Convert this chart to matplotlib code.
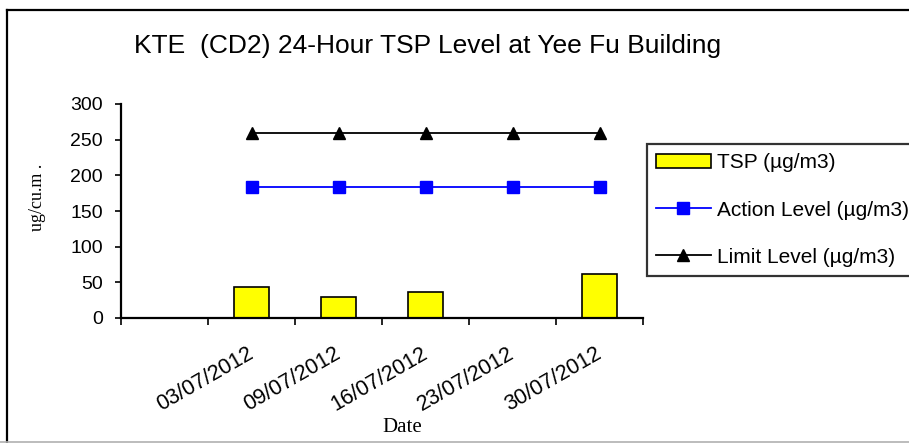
import numpy as np
import matplotlib
matplotlib.use("Agg")
import matplotlib.pyplot as plt
from matplotlib.lines import Line2D
import matplotlib.transforms as mtransforms

categories = ["", "03/07/2012", "09/07/2012", "16/07/2012", "23/07/2012", "30/07/2012"]
tsp = [np.nan, 44, 30, 36, np.nan, 62]
action = [np.nan, 183, 183, 183, 183, 183]
limit = [np.nan, 260, 260, 260, 260, 260]

W, H = 909, 443
fig = plt.figure(figsize=(W / 100, H / 100), dpi=100)
fig.patch.set_facecolor("white")

def fx(px):
    return px / W

def fy(py):
    return 1 - py / H

# outer frame (top and left visible, grey bottom edge)
fig.add_artist(Line2D([fx(7), 1.0], [fy(10), fy(10)], transform=fig.transFigure,
                      color="black", linewidth=1.6))
fig.add_artist(Line2D([fx(7), fx(7)], [fy(10), 0.0], transform=fig.transFigure,
                      color="black", linewidth=1.6))
fig.add_artist(Line2D([0, 1], [fy(442), fy(442)], transform=fig.transFigure,
                      color="#b0b0b0", linewidth=1.2))

left, right, top, bottom = 121, 643, 104, 318
ax = fig.add_axes([fx(left), fy(bottom), (right - left) / W, (bottom - top) / H])

x = np.arange(len(categories))
bars = ax.bar(x, tsp, width=0.4, color="#FFFF00", edgecolor="black", linewidth=1.2,
              label="TSP (µg/m3)", zorder=2)
l_act, = ax.plot(x, action, color="#0000FF", marker="s", markersize=8, linewidth=1.3,
                 label="Action Level (µg/m3)", zorder=3)
l_lim, = ax.plot(x, limit, color="black", marker="^", markersize=9, linewidth=1.3,
                 label="Limit Level (µg/m3)", zorder=3)

ax.set_xlim(-0.5, len(categories) - 0.5)
ax.set_ylim(0, 300)
ax.set_yticks(np.arange(0, 301, 50))
ax.tick_params(axis="y", labelsize=14, length=4, width=1.2, direction="out", pad=9)
for lab in ax.get_yticklabels():
    lab.set_family("Liberation Sans")

ax.set_xticks(x)
ax.set_xticklabels(categories, rotation=30, ha="right", rotation_mode="anchor",
                   fontsize=15.5, family="Liberation Sans")
ax.tick_params(axis="x", which="major", length=0, pad=18)
offset = mtransforms.ScaledTranslation(-5 / 100, 0, fig.dpi_scale_trans)
for lab in ax.get_xticklabels():
    lab.set_transform(lab.get_transform() + offset)
ax.set_xticks(np.arange(-0.5, len(categories)), minor=True)
ax.tick_params(axis="x", which="minor", length=5, width=1.2, direction="out")

for s in ["top", "right"]:
    ax.spines[s].set_visible(False)
for s in ["left", "bottom"]:
    ax.spines[s].set_linewidth(1.6)

fig.text(fx(428), fy(46), "KTE  (CD2) 24-Hour TSP Level at Yee Fu Building",
         ha="center", va="center", fontsize=19, family="Liberation Sans")
fig.text(fx(38), fy(197), "ug/cu.m .", rotation=90, ha="center", va="center",
         fontsize=13, family="Liberation Serif")
fig.text(fx(402), fy(428), "Date", ha="center", va="center",
         fontsize=15, family="Liberation Serif")

leg = fig.legend(handles=[bars, l_act, l_lim],
                 labels=["TSP (µg/m3)", "Action Level (µg/m3)", "Limit Level (µg/m3)"],
                 loc="upper left", bbox_to_anchor=(fx(647), fy(144)),
                 frameon=True, fancybox=False, edgecolor="black",
                 prop={"family": "Liberation Sans", "size": 15},
                 handlelength=2.6, labelspacing=1.35, borderpad=0.45,
                 handletextpad=0.3, borderaxespad=0)
leg.get_frame().set_linewidth(1.6)

fig.savefig("out.png", dpi=100)
